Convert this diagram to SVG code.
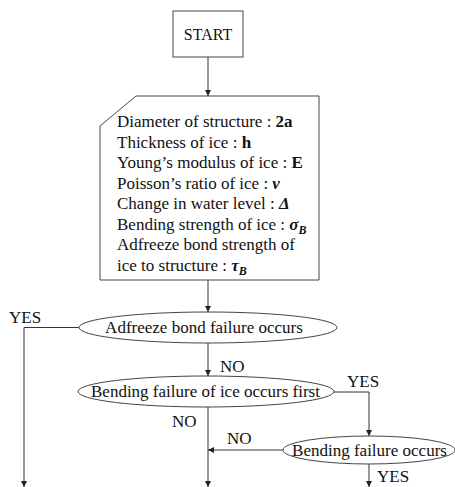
<svg xmlns="http://www.w3.org/2000/svg" width="455" height="487" viewBox="0 0 455 487">
<defs>
<style>
text{font-family:"Liberation Serif","Times New Roman",serif;font-size:17px;fill:#111}
.shape{fill:#fff;stroke:#444;stroke-width:1}
.conn{fill:none;stroke:#333;stroke-width:1}
.b{font-weight:bold}
.bi{font-weight:bold;font-style:italic}
</style>
<marker id="ah" viewBox="0 0 6 6" refX="6" refY="3" markerWidth="6" markerHeight="6" orient="auto" markerUnits="userSpaceOnUse">
<path d="M0,0 L6,3 L0,6 z" fill="#222"/>
</marker>
</defs>
<rect width="455" height="487" fill="#fff"/>
<g id="connectors">
<line class="conn" x1="208" y1="57" x2="208" y2="96" marker-end="url(#ah)"/>
<line class="conn" x1="208" y1="280" x2="208" y2="312" marker-end="url(#ah)"/>
<polyline class="conn" points="79,327.5 24,327.5 24,487" marker-end="url(#ah)"/>
<line class="conn" x1="208" y1="343" x2="208" y2="376" marker-end="url(#ah)"/>
<polyline class="conn" points="334,392 369,392 369,436" marker-end="url(#ah)"/>
<line class="conn" x1="208" y1="407" x2="208" y2="487" marker-end="url(#ah)"/>
<line class="conn" x1="283" y1="450" x2="208" y2="450" marker-end="url(#ah)"/>
<line class="conn" x1="369" y1="464" x2="369" y2="487" marker-end="url(#ah)"/>
<text x="9" y="323">YES</text>
<text x="220" y="372">NO</text>
<text x="347" y="387">YES</text>
<text x="172" y="427">NO</text>
<text x="227" y="444">NO</text>
<text x="377" y="482">YES</text>
</g>
<g id="start">
<rect class="shape" x="173" y="11" width="70" height="46"/>
<text x="208" y="40" text-anchor="middle" style="font-size:16px">START</text>
</g>
<g id="input">
<path class="shape" d="M136,96 L319,96 L319,280 L100,280 L100,126 Z"/>
<text x="117" y="127">Diameter of structure : <tspan class="b">2a</tspan></text>
<text x="117" y="147.5">Thickness of ice : <tspan class="b">h</tspan></text>
<text x="117" y="168">Young’s modulus of ice : <tspan class="b">E</tspan></text>
<text x="117" y="188.5">Poisson’s ratio of ice : <tspan class="bi">ν</tspan></text>
<text x="117" y="209">Change in water level : <tspan class="bi">Δ</tspan></text>
<text x="117" y="229.5">Bending strength of ice : <tspan class="bi">σ</tspan><tspan class="bi" dy="4" style="font-size:12px">B</tspan></text>
<text x="117" y="250">Adfreeze bond strength of</text>
<text x="117" y="270.5">ice to structure : <tspan class="bi">τ</tspan><tspan class="bi" dy="4" style="font-size:12px">B</tspan></text>
</g>
<g id="adfreeze">
<ellipse class="shape" cx="208" cy="327.5" rx="129" ry="15.5"/>
<text x="204" y="333" text-anchor="middle">Adfreeze bond failure occurs</text>
</g>
<g id="bendfirst">
<ellipse class="shape" cx="206" cy="391.5" rx="128" ry="15.5"/>
<text x="205.5" y="397" text-anchor="middle">Bending failure of ice occurs first</text>
</g>
<g id="bending">
<ellipse class="shape" cx="369" cy="450" rx="86" ry="14"/>
<text x="369.5" y="455.5" text-anchor="middle">Bending failure occurs</text>
</g>
</svg>
